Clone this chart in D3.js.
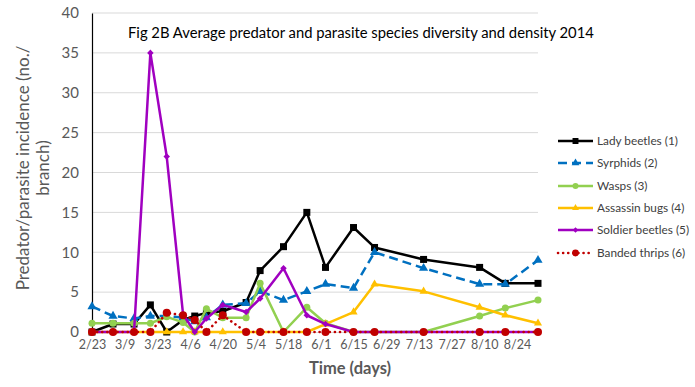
<!DOCTYPE html>
<html><head><meta charset="utf-8">
<script src="https://cdn.jsdelivr.net/npm/d3@7"></script>
<style>body{margin:0;background:#fff}svg{display:block}</style>
</head><body><svg id="c" width="695" height="387"></svg>
<script>
const dates = ["2014-02-23","2014-03-04","2014-03-13","2014-03-20","2014-03-27","2014-04-03","2014-04-08","2014-04-13","2014-04-20","2014-04-30","2014-05-06","2014-05-16","2014-05-26","2014-06-03","2014-06-15","2014-06-24","2014-07-15","2014-08-08","2014-08-19","2014-09-02"];
const ladyBeetles    = [0, 1.0, 1.0, 3.4, 0, 1.5, 2.0, 2.4, 2.6, 3.7, 7.7, 10.7, 15.0, 8.1, 13.1, 10.6, 9.1, 8.1, 6.1, 6.1];
const syrphids       = [3.2, 2.0, 1.7, 2.0, 2.0, 1.8, 1.3, 1.8, 3.4, 3.6, 5.1, 4.0, 5.1, 6.0, 5.5, 10.0, 8.0, 6.0, 6.0, 9.0];
const wasps          = [1.1, 1.1, 1.1, 1.1, 1.9, 1.2, 0, 2.9, 1.8, 1.8, 6.1, 0, 3.1, 1.1, 0, 0, 0, 2.0, 3.0, 4.0];
const assassinBugs   = [0, 0, 0, 0, 0, 0, 0, 0, 0, 0, 0, 0, 0, 1.0, 2.5, 6.0, 5.1, 3.1, 2.1, 1.1];
const soldierBeetles = [0, 0, 0, 35, 22, 2.2, 0, 1.7, 3.4, 2.5, 4.2, 8.0, 2.1, 1.0, 0, 0, 0, 0, 0, 0];
const bandedThrips   = [0, 0, 0, 0, 2.4, 2.1, 1.5, 0, 2.1, 0, 0, 0, 0, 0, 0, 0, 0, 0, 0, 0];
const seriesNames = ["Lady beetles (1)","Syrphids (2)","Wasps (3)","Assassin bugs (4)","Soldier beetles (5)","Banded thrips (6)"];
const xTickLabels = ["2/23","3/9","3/23","4/6","4/20","5/4","5/18","6/1","6/15","6/29","7/13","7/27","8/10","8/24"];
const yTicks = [0,5,10,15,20,25,30,35,40];
const title = "Fig 2B Average predator and parasite species diversity and density 2014";

const parse = d3.timeParse("%Y-%m-%d");
const dd = dates.map(parse);
const svg = d3.select("#c");
const font = "Lato, 'Liberation Sans', sans-serif";

const x = d3.scaleTime().domain([dd[0], dd[dd.length-1]]).range([92, 538]);
const y = d3.scaleLinear().domain([0, 40]).range([332, 13]);

// gridlines
svg.append("g").selectAll("line").data(yTicks.slice(1)).join("line")
  .attr("x1", 92).attr("x2", 538).attr("y1", d=>y(d)).attr("y2", d=>y(d))
  .attr("stroke", "#d9d9d9").attr("stroke-width", 1);

// y axis
const yAxis = svg.append("g").attr("transform","translate(92,0)")
  .call(d3.axisLeft(y).tickValues(yTicks).tickSize(0).tickPadding(13));
yAxis.select(".domain").attr("stroke","#000").attr("stroke-width",1.2);
yAxis.selectAll("text").attr("font-family",font).attr("font-size",15).attr("fill","#595959");

// x axis
const xTickDates = xTickLabels.map(s => { const [m,d]=s.split("/"); return new Date(2014, +m-1, +d); });
const xAxis = svg.append("g").attr("transform","translate(0,332)")
  .call(d3.axisBottom(x).tickValues(xTickDates).tickSize(0).tickPadding(8)
    .tickFormat((d,i)=>xTickLabels[i]));
xAxis.select(".domain").attr("stroke","#d9d9d9");
xAxis.selectAll("text").attr("font-family",font).attr("font-size",12.5).attr("fill","#595959");

// title
svg.append("text").attr("x",128).attr("y",38).attr("font-family",font).attr("font-size",14.8)
  .attr("fill","#000").text(title);

// y label
const yl = svg.append("text").attr("transform","translate(0,168) rotate(-90)")
  .attr("text-anchor","middle").attr("font-family",font).attr("font-size",17).attr("fill","#595959");
yl.append("tspan").attr("x",0).attr("y",29).text("Predator/parasite incidence (no./");
yl.append("tspan").attr("x",0).attr("y",49).text("branch)");

// x label
svg.append("text").attr("x",350).attr("y",374).attr("text-anchor","middle").attr("font-family",font)
  .attr("font-size",16.5).attr("font-weight","bold").attr("fill","#595959").text("Time (days)");

const allVals = [ladyBeetles, syrphids, wasps, assassinBugs, soldierBeetles, bandedThrips];
const styles = [
  {c:"#000000", dash:null, w:2.5, m:"square", s:7},
  {c:"#0070C0", dash:"9,5", w:2.5, m:"triangle", s:9},
  {c:"#92D050", dash:null, w:2.5, m:"circle", s:7},
  {c:"#FFC000", dash:null, w:2.5, m:"triangle", s:8},
  {c:"#A000C0", dash:null, w:2.5, m:"diamond", s:7},
  {c:"#C00000", dash:"0.1,5", w:2.6, m:"circle", s:8, round:true}
];
const symType = {square:d3.symbolSquare, triangle:d3.symbolTriangle, circle:d3.symbolCircle, diamond:d3.symbolDiamond2};
function sym(m, s){
  const area = m==="circle" ? Math.PI*s*s/4 : m==="triangle" ? s*s*0.45 : m==="diamond" ? s*s*0.55 : s*s;
  return d3.symbol().type(symType[m]).size(area)();
}
const line = d3.line().x((d,i)=>x(dd[i])).y(d=>y(d));

allVals.forEach((vals, k) => {
  const st = styles[k];
  const g = svg.append("g");
  g.append("path").attr("d", line(vals)).attr("fill","none").attr("stroke",st.c)
    .attr("stroke-width",st.w).attr("stroke-dasharray",st.dash)
    .attr("stroke-linecap", st.round ? "round" : "butt").attr("stroke-linejoin","round");
  g.selectAll("path.m").data(vals).join("path").attr("class","m")
    .attr("transform",(d,i)=>`translate(${x(dd[i])},${y(d)})`)
    .attr("d", sym(st.m, st.s)).attr("fill",st.c);
});

// legend
const lg = svg.append("g");
const rowsY = [141,163,186,208,230,253];
seriesNames.forEach((n,k)=>{
  const st = styles[k]; const yy = rowsY[k];
  lg.append("line").attr("x1",558).attr("x2",593).attr("y1",yy).attr("y2",yy)
    .attr("stroke",st.c).attr("stroke-width",st.w).attr("stroke-dasharray",st.dash)
    .attr("stroke-linecap", st.round ? "round" : "butt");
  lg.append("path").attr("transform",`translate(575.5,${yy})`).attr("d",sym(st.m, st.s*0.85)).attr("fill",st.c);
  lg.append("text").attr("x",597).attr("y",yy+4).attr("font-family",font).attr("font-size",11.8)
    .attr("fill","#404040").text(n);
});
</script></body></html>
